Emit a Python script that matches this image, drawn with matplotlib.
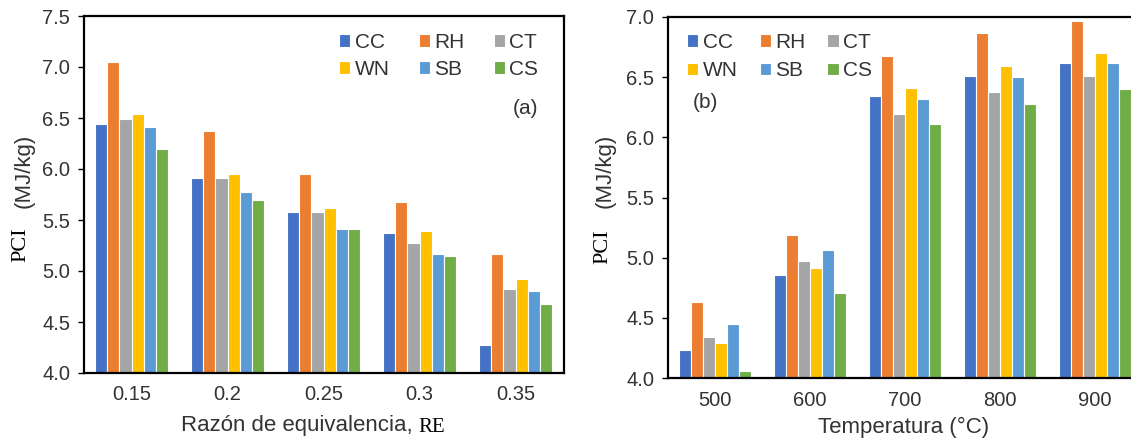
import numpy as np
import matplotlib.pyplot as plt

series = ['CC', 'RH', 'CT', 'WN', 'SB', 'CS']
colors = ['#4472C4', '#ED7D31', '#A5A5A5', '#FFC000', '#5B9BD5', '#70AD47']

re_labels = ['0.15', '0.2', '0.25', '0.3', '0.35']
re_cc = [6.44, 5.91, 5.58, 5.37, 4.27]
re_rh = [7.05, 6.37, 5.95, 5.68, 5.17]
re_ct = [6.49, 5.91, 5.58, 5.27, 4.82]
re_wn = [6.54, 5.95, 5.62, 5.39, 4.92]
re_sb = [6.41, 5.77, 5.41, 5.17, 4.80]
re_cs = [6.20, 5.70, 5.41, 5.15, 4.68]

temp_labels = ['500', '600', '700', '800', '900']
t_cc = [4.23, 4.86, 6.34, 6.51, 6.62]
t_rh = [4.63, 5.19, 6.68, 6.87, 6.97]
t_ct = [4.34, 4.97, 6.19, 6.38, 6.51]
t_wn = [4.29, 4.91, 6.41, 6.59, 6.70]
t_sb = [4.45, 5.06, 6.32, 6.50, 6.62]
t_cs = [4.06, 4.71, 6.11, 6.28, 6.40]

plt.rcParams['font.family'] = ['Liberation Sans', 'DejaVu Sans']
txt = '#333333'

W, H = 1131, 441
fig = plt.figure(figsize=(W / 100, H / 100), dpi=100)
ax1 = fig.add_axes([83.5 / W, 68 / H, 480 / W, 357 / H])
ax2 = fig.add_axes([667.5 / W, 63 / H, 475 / W, 361 / H])


def draw(ax, labels, data, ylim, yticks):
    x = np.arange(len(labels))
    w = 0.127
    for i, (name, vals, c) in enumerate(zip(series, data, colors)):
        ax.bar(x + (i - 2.5) * w, np.array(vals) - ylim[0], w, bottom=ylim[0],
               color=c, edgecolor='white', linewidth=0.8, label=name)
    ax.set_xlim(-0.5, len(labels) - 0.5)
    ax.set_ylim(*ylim)
    ax.set_yticks(yticks)
    ax.set_yticklabels(['%.1f' % v for v in yticks])
    ax.set_xticks(x)
    ax.set_xticklabels(labels)
    ax.tick_params(axis='x', length=0, labelsize=14.5, pad=9, labelcolor=txt)
    ax.tick_params(axis='y', direction='out', length=4.5, width=1, pad=5,
                   labelsize=14.5, labelcolor=txt)
    for sp in ax.spines.values():
        sp.set_linewidth(1.6)
        sp.set_color('black')


def legend(ax, anchor, colsp, rowsp):
    h, l = ax.get_legend_handles_labels()
    order = [0, 3, 1, 4, 2, 5]  # row-major fill: CC RH CT / WN SB CS
    ax.legend([h[i] for i in order], [l[i] for i in order], ncol=3, frameon=False,
              fontsize=15, handlelength=0.55, handleheight=0.55, handletextpad=0.2,
              columnspacing=colsp, labelspacing=rowsp, borderpad=0, borderaxespad=0,
              labelcolor=txt, loc='upper left', bbox_to_anchor=anchor,
              bbox_transform=fig.transFigure)


draw(ax1, re_labels, [re_cc, re_rh, re_ct, re_wn, re_sb, re_cs], (4.0, 7.5),
     np.arange(4.0, 7.51, 0.5))
draw(ax2, temp_labels, [t_cc, t_rh, t_ct, t_wn, t_sb, t_cs], (4.0, 7.0),
     np.arange(4.0, 7.01, 0.5))

legend(ax1, (339 / W, 1 - 33 / H), 1.4, 0.38)
legend(ax2, (687 / W, 1 - 33 / H), 1.05, 0.45)

fig.text(526 / W, 1 - 109 / H, '(a)', fontsize=15, ha='center', va='center', color=txt)
fig.text(705 / W, 1 - 103 / H, '(b)', fontsize=15, ha='center', va='center', color=txt)

# y labels: "PCI" in serif, units in sans
for xp, yp, xm, ym in [(21, 245, 24, 171), (603, 247, 605, 171)]:
    fig.text(xp / W, 1 - yp / H, 'PCI', rotation=90, ha='center', va='center',
             family='Liberation Serif', fontsize=16, color='black')
    fig.text(xm / W, 1 - ym / H, '(MJ/kg)', rotation=90, ha='center', va='center',
             fontsize=16, color=txt)

# x labels
fig.text(413 / W, 1 - 425 / H, 'Razón de equivalencia,', ha='right', va='center',
         fontsize=16, color=txt)
fig.text(418 / W, 1 - 427 / H, 'RE', ha='left', va='center',
         family='Liberation Serif', fontsize=15, color='black')
fig.text(904 / W, 1 - 427 / H, 'Temperatura (°C)', ha='center', va='center',
         fontsize=16, color=txt)

fig.savefig('out.png', dpi=100)
